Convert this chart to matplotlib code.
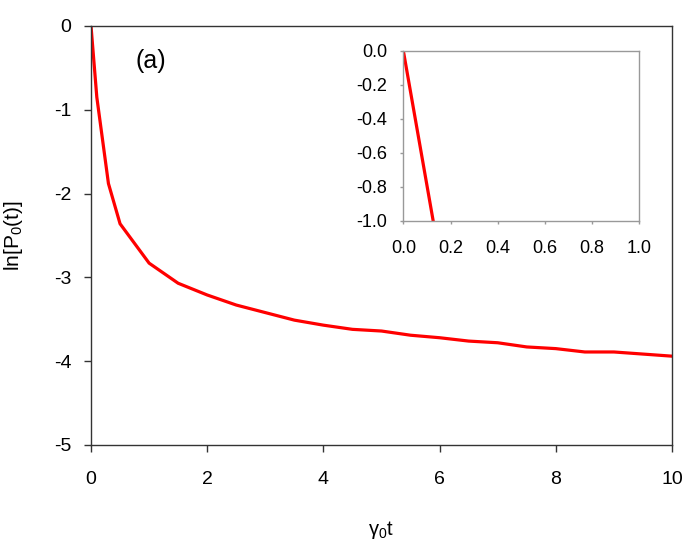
import numpy as np
import matplotlib
matplotlib.use("Agg")
import matplotlib.pyplot as plt

plt.rcParams["font.family"] = ["Liberation Sans", "DejaVu Sans"]
plt.rcParams["mathtext.fontset"] = "custom"
plt.rcParams["mathtext.rm"] = "Liberation Sans"
plt.rcParams["mathtext.it"] = "Liberation Sans"
plt.rcParams["mathtext.default"] = "regular"

# --- data ---
t_main = [0.0, 0.1, 0.3, 0.5, 1.0, 1.5, 2.0, 2.5, 3.0, 3.5, 4.0, 4.5,
          5.0, 5.5, 6.0, 6.5, 7.0, 7.5, 8.0, 8.5, 9.0, 9.5, 10.0]
lnp_main = [0.0, -0.85, -1.88, -2.36, -2.83, -3.07, -3.21, -3.33, -3.42,
            -3.51, -3.57, -3.62, -3.64, -3.69, -3.72, -3.76, -3.78, -3.83,
            -3.85, -3.89, -3.89, -3.915, -3.94]

t_inset = [0.0, 0.1, 0.2]
lnp_inset = [0.0, -0.79, -1.58]

x_ticks = [0, 2, 4, 6, 8, 10]
y_ticks = [0, -1, -2, -3, -4, -5]
inset_xticks = [0.0, 0.2, 0.4, 0.6, 0.8, 1.0]
inset_yticks = [0.0, -0.2, -0.4, -0.6, -0.8, -1.0]

fig = plt.figure(figsize=(6.99, 5.45), dpi=100)

# main panel
ax = fig.add_axes([0.1302, 0.1835, 0.8312, 0.7688])
ax.plot(t_main, lnp_main, color="red", lw=2.3, solid_joinstyle="miter")
ax.set_xlim(0, 10)
ax.set_ylim(-5, 0)
ax.set_xticks(x_ticks)
ax.set_yticks(y_ticks)
ax.set_yticklabels([str(v) for v in y_ticks])
ax.tick_params(direction="out", length=5, width=1, labelsize=14,
               color="#333333", pad=9)
ax.tick_params(axis="x", pad=14)
for s in ax.spines.values():
    s.set_color("#333333")
    s.set_linewidth(1.0)
ax.set_xlabel(r"$\gamma_0$t", fontsize=14.5, labelpad=22)
ax.set_ylabel(r"ln[P$_0$(t)]", fontsize=15, labelpad=21)
fig.text(151 / 699, 1 - 61 / 545, "(a)", fontsize=18,
         ha="center", va="center")

# inset
axi = fig.add_axes([0.577, 0.5945, 0.3376, 0.3125])
axi.plot(t_inset, lnp_inset, color="red", lw=2.3)
axi.set_xlim(0, 1.0)
axi.set_ylim(-1.0, 0.0)
axi.set_xticks(inset_xticks)
axi.set_yticks(inset_yticks)
axi.set_xticklabels([f"{v:.1f}" for v in inset_xticks])
axi.set_yticklabels([f"{v:.1f}" for v in inset_yticks])
axi.tick_params(direction="out", length=2.5, width=1, labelsize=13,
                color="#999999", pad=9)
axi.tick_params(axis="x", pad=11)
for s in axi.spines.values():
    s.set_color("#999999")
    s.set_linewidth(1.0)

fig.savefig("out.png", dpi=100)
